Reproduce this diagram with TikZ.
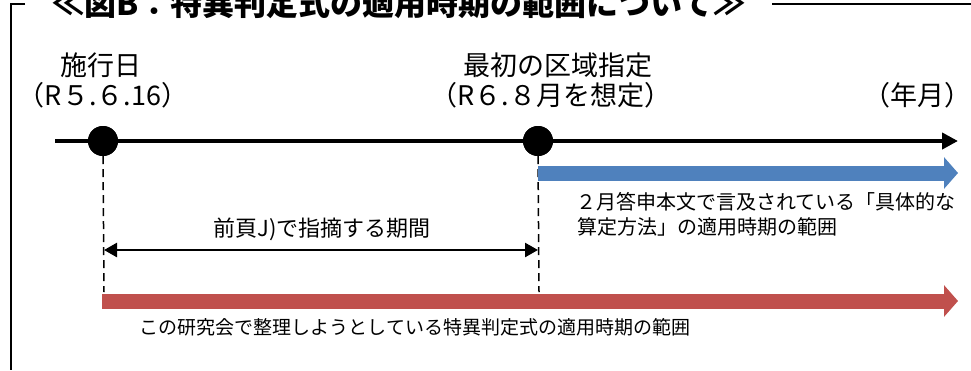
\documentclass[tikz,border=0pt]{standalone}
\usepackage{fontspec}
\setmainfont{Noto Sans CJK JP}
\usetikzlibrary{arrows.meta}
\definecolor{bandblue}{HTML}{4F81BD}
\definecolor{bandred}{HTML}{C0504D}
\tikzset{
  lbl/.style={inner sep=0pt,anchor=base,font=\fontsize{27}{32}\selectfont},
  note/.style={inner sep=0pt,anchor=base west,font=\fontsize{20}{24}\selectfont},
  dot/.style={circle,fill=black,inner sep=0pt,minimum size=30pt},
  band/.style={line width=15pt,-{Triangle[length=14pt,width=31pt]}},
  guide/.style={dash pattern=on 8pt off 5pt,line width=1.5pt},
}
\begin{document}
\begin{tikzpicture}[x=1pt,y=-1pt]
  \useasboundingbox (0,0) rectangle (971,370);

  \draw[line width=1.8pt] (25,4) -- (11,4) -- (11,370);
  \draw[line width=1.8pt] (772,4) -- (971,4);
  \node (title) at (399,15) [anchor=base,inner sep=0pt,font=\bfseries\fontsize{32}{36}\selectfont]
    {≪図B：特異判定式の適用時期の範囲について≫};

  \node[lbl] (startName) at (101,75) {施行日};
  \node[lbl] (startDate) at (103,105) {（R５.６.16）};
  \node[lbl] (firstName) at (558,75) {最初の区域指定};
  \node[lbl] (firstDate) at (551,105) {（R６.８月を想定）};
  \node[lbl] (unit) at (917,105) {（年月）};

  \coordinate (tlStart) at (55,141);
  \coordinate (tlEnd) at (958,141);
  \coordinate (guideA) at (104,292);
  \coordinate (guideB) at (539,292);
  \node[dot] (dotA) at (103,141) {};
  \node[dot] (dotB) at (538,141) {};

  \draw[guide] (dotA.south) -- (guideA);
  \draw[guide] (dotB.south) -- (guideB);
  \draw[line width=4pt,-{Triangle[length=16pt,width=16pt]}] (tlStart) -- (tlEnd);
  \node[dot] at (dotA) {};
  \node[dot] at (dotB) {};

  \coordinate (blueStart) at (538,173);
  \coordinate (blueEnd) at (958,173);
  \draw[band,bandblue] (blueStart) -- (blueEnd);
  \node[note] (blueA) at (576,209) {２月答申本文で言及されている「具体的な};
  \node[note] (blueB) at (577,234) {算定方法」の適用時期の範囲};

  \coordinate (spanA) at (104,250);
  \coordinate (spanB) at (538,250);
  \draw[line width=2.5pt,{Triangle[length=13pt,width=14pt]}-{Triangle[length=13pt,width=14pt]}] (spanA) -- (spanB);
  \node (span) at (322,236) [anchor=base,inner sep=0pt,font=\fontsize{22}{26}\selectfont] {前頁J)で指摘する期間};

  \coordinate (redStart) at (102,301);
  \coordinate (redEnd) at (958,301);
  \draw[band,bandred] (redStart) -- (redEnd);
  \node (redNote) at (415,334) [anchor=base,inner sep=0pt,font=\fontsize{19}{23}\selectfont]
    {この研究会で整理しようとしている特異判定式の適用時期の範囲};
\end{tikzpicture}
\end{document}
